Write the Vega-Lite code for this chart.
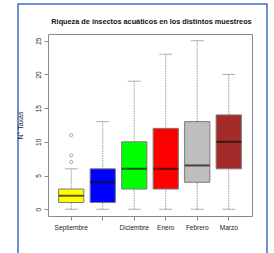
{
  "$schema": "https://vega.github.io/schema/vega-lite/v6.json",
  "width": 249,
  "height": 252,
  "autosize": {"type": "none"},
  "padding": {"left": 18, "top": 4, "right": 7, "bottom": 0},
  "background": "white",
  "title": {
    "text": "Riqueza de insectos acuáticos en los distintos muestreos",
    "font": "Liberation Sans",
    "fontSize": 7.3,
    "fontWeight": "bold",
    "color": "#111",
    "anchor": "middle",
    "frame": "group",
    "offset": -21,
    "dx": 9
  },
  "config": {
    "font": "Liberation Sans",
    "view": {"stroke": "#3f6fba", "strokeWidth": 1.5},
    "axis": {
      "grid": false,
      "domainColor": "#8a8a8a",
      "tickColor": "#8a8a8a",
      "labelColor": "#222",
      "titleColor": "#222",
      "labelFont": "Liberation Sans",
      "titleFont": "Liberation Sans"
    }
  },
  "datasets": {
    "stats": [
      {"muestreo": "Septiembre", "min": 0, "q1": 1, "mediana": 2, "q3": 3, "max": 6},
      {"muestreo": "Noviembre", "min": 0, "q1": 1, "mediana": 4, "q3": 6, "max": 13},
      {"muestreo": "Diciembre", "min": 0, "q1": 3, "mediana": 6, "q3": 10, "max": 19},
      {"muestreo": "Enero", "min": 0, "q1": 3, "mediana": 6, "q3": 12, "max": 23},
      {"muestreo": "Febrero", "min": 0, "q1": 4, "mediana": 6.5, "q3": 13, "max": 25},
      {"muestreo": "Marzo", "min": 0, "q1": 6, "mediana": 10, "q3": 14, "max": 20}
    ],
    "outliers": [
      {"muestreo": "Septiembre", "valor": 7},
      {"muestreo": "Septiembre", "valor": 8},
      {"muestreo": "Septiembre", "valor": 11}
    ]
  },
  "resolve": {"axis": {"x": "independent", "y": "independent"}},
  "layer": [
    {
      "data": {"name": "stats"},
      "mark": {"type": "rule", "color": "#9a9a9a", "strokeWidth": 1, "strokeDash": [1.5, 1]},
      "encoding": {
        "x": {
          "field": "muestreo", "type": "nominal",
          "scale": {"type": "band", "domain": ["Septiembre", "Noviembre", "Diciembre", "Enero", "Febrero", "Marzo"], "range": [30, 234], "paddingInner": 0.2, "paddingOuter": 0.338},
          "axis": {
            "orient": "bottom", "offset": -40, "title": null, "labelAngle": 0,
            "labelFontSize": 6.5, "tickSize": 4, "labelPadding": 4,
            "labelExpr": "datum.value == 'Noviembre' ? '' : datum.label"
          }
        },
        "y": {
          "field": "min", "type": "quantitative",
          "scale": {"domain": [-1, 26], "range": [212, 30], "nice": false, "zero": false},
          "axis": {
            "orient": "left", "offset": -30, "values": [0, 5, 10, 15, 20, 25],
            "labelAngle": -90, "labelAlign": "center", "labelBaseline": "bottom",
            "labelFontSize": 6.5, "tickSize": 4, "labelPadding": 3,
            "title": "N° Taxas", "titleFontSize": 7, "titleFontWeight": "normal", "titlePadding": 12
          }
        },
        "y2": {"field": "max"}
      }
    },
    {
      "data": {"name": "stats"},
      "mark": {"type": "tick", "color": "#8a8a8a", "size": 13, "thickness": 1},
      "encoding": {
        "x": {
          "field": "muestreo", "type": "nominal",
          "scale": {"type": "band", "domain": ["Septiembre", "Noviembre", "Diciembre", "Enero", "Febrero", "Marzo"], "range": [30, 234], "paddingInner": 0.2, "paddingOuter": 0.338},
          "axis": {"orient": "top", "offset": -30, "labels": false, "ticks": false, "title": null}
        },
        "y": {
          "field": "min", "type": "quantitative",
          "scale": {"domain": [-1, 26], "range": [212, 30], "nice": false, "zero": false},
          "axis": {"orient": "right", "offset": -15, "labels": false, "ticks": false, "title": null}
        }
      }
    },
    {
      "data": {"name": "stats"},
      "mark": {"type": "tick", "color": "#8a8a8a", "size": 13, "thickness": 1},
      "encoding": {
        "x": {"field": "muestreo", "type": "nominal", "axis": null},
        "y": {"field": "max", "type": "quantitative", "axis": null}
      }
    },
    {
      "data": {"name": "stats"},
      "mark": {"type": "bar", "stroke": "#7a7a7a", "strokeWidth": 1},
      "encoding": {
        "x": {"field": "muestreo", "type": "nominal", "axis": null},
        "y": {"field": "q1", "type": "quantitative", "axis": null},
        "y2": {"field": "q3"},
        "color": {
          "field": "muestreo", "type": "nominal", "legend": null,
          "scale": {"domain": ["Septiembre", "Noviembre", "Diciembre", "Enero", "Febrero", "Marzo"], "range": ["#ffff00", "#0000ff", "#00ff00", "#ff0000", "#bebebe", "#a52a2a"]}
        }
      }
    },
    {
      "data": {"name": "stats"},
      "mark": {"type": "tick", "color": "#111", "size": 25, "thickness": 2},
      "encoding": {
        "x": {"field": "muestreo", "type": "nominal", "axis": null},
        "y": {"field": "mediana", "type": "quantitative", "axis": null}
      }
    },
    {
      "data": {"name": "outliers"},
      "mark": {"type": "point", "shape": "circle", "filled": false, "size": 10, "color": "#7a7a7a", "strokeWidth": 0.9},
      "encoding": {
        "x": {"field": "muestreo", "type": "nominal", "axis": null},
        "y": {"field": "valor", "type": "quantitative", "axis": null}
      }
    }
  ]
}
